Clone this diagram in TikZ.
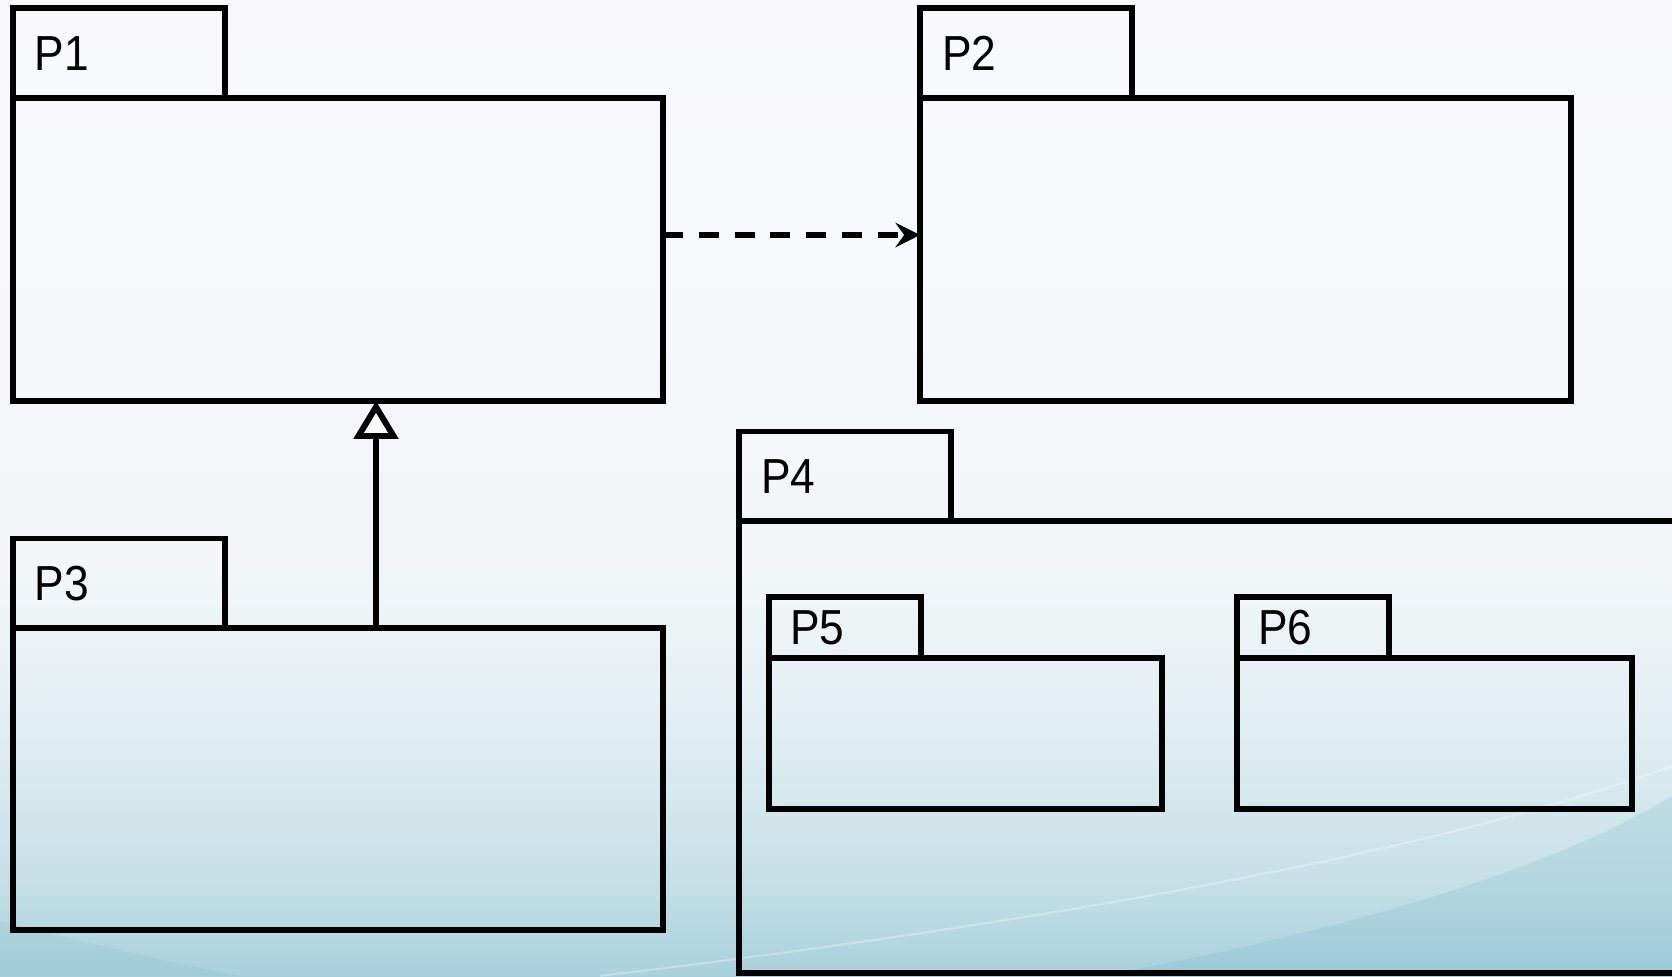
\documentclass[tikz,border=0pt]{standalone}
\usepackage{fontspec}
\setmainfont[FakeStretch=0.9]{Liberation Sans}
\usetikzlibrary{arrows.meta, positioning}
\definecolor{bgtop}{HTML}{F9F9FD}
\definecolor{bgmid}{HTML}{F2F6F8}
\definecolor{bglow}{HTML}{E2EFF2}
\definecolor{bgsoft}{HTML}{C6E0E7}
\definecolor{bgbot}{HTML}{A8D0DC}
\definecolor{swoosh}{HTML}{6FAFC4}
\pgfdeclareverticalshading{bgfade}{100bp}{color(0bp)=(bgbot); color(25bp)=(bgbot);
  color(30bp)=(bgsoft); color(38bp)=(bglow); color(46bp)=(bgmid); color(75bp)=(bgtop); color(100bp)=(bgtop)}

\begin{document}
\begin{tikzpicture}[
  pkg/.style={draw, line width=1.7pt, anchor=north west, inner sep=0pt, outer sep=0pt},
  tab/.style={draw, line width=1.7pt, anchor=south west, inner ysep=0pt, outer sep=0pt,
              align=left, font=\fontsize{14}{16}\selectfont},
  bigtab/.style={tab, inner xsep=0.22cm, text width=1.68cm, minimum height=0.895cm},
  smalltab/.style={tab, inner xsep=0.21cm, text width=1.10cm, minimum height=0.61cm},
  dep/.style={line width=1.7pt, dash pattern=on 5.7pt off 4.5pt,
              -{Stealth[length=7pt, width=7pt, inset=2.5pt]}},
  gen/.style={line width=1.7pt, -{Triangle[length=0.38cm, width=0.44cm, fill=white]}},
]
  \clip (0,0) rectangle (16.72,9.76);
  \shade[shading=bgfade] (0,0) rectangle (16.72,9.76);
  % soft swooshes in the lower corners
  \fill[swoosh, opacity=0.2] (11,0) .. controls (13.2,0.4) and (15.4,1.0) .. (16.72,1.8) -- (16.72,0) -- cycle;
  \fill[swoosh, opacity=0.15] (0,0.55) .. controls (0.8,0.35) and (1.6,0.15) .. (2.4,0) -- (0,0) -- cycle;
  \draw[white, opacity=0.3, line width=0.6pt] (6,0) .. controls (11,0.6) and (14.5,1.3) .. (16.72,2.1);

  \node[pkg, minimum width=6.50cm, minimum height=3.03cm] (p1) at (0.128,8.78) {};
  \node[bigtab] (p1tab) at (p1.north west) {P1};

  \node[pkg, minimum width=6.51cm, minimum height=3.03cm] (p2) at (9.20,8.78) {};
  \node[bigtab] (p2tab) at (p2.north west) {P2};

  \node[pkg, minimum width=6.50cm, minimum height=3.02cm] (p3) at (0.128,3.48) {};
  \node[bigtab] (p3tab) at (p3.north west) {P3};

  \node[pkg, minimum width=10cm, minimum height=4.52cm] (p4) at (7.39,4.55) {};
  \node[bigtab] (p4tab) at (p4.north west) {P4};

  \node[pkg, minimum width=3.93cm, minimum height=1.51cm] (p5) at (7.69,3.18) {};
  \node[smalltab] (p5tab) at (p5.north west) {P5};

  \node[pkg, minimum width=3.95cm, minimum height=1.51cm] (p6) at (12.37,3.18) {};
  \node[smalltab] (p6tab) at (p6.north west) {P6};

  \draw[dep] ([yshift=0.145cm]p1.east) -- ([yshift=0.145cm]p2.west);
  \coordinate (g) at (3.76,0);
  \draw[gen] (p3.north -| g) -- (p1.south -| g);
\end{tikzpicture}
\end{document}
